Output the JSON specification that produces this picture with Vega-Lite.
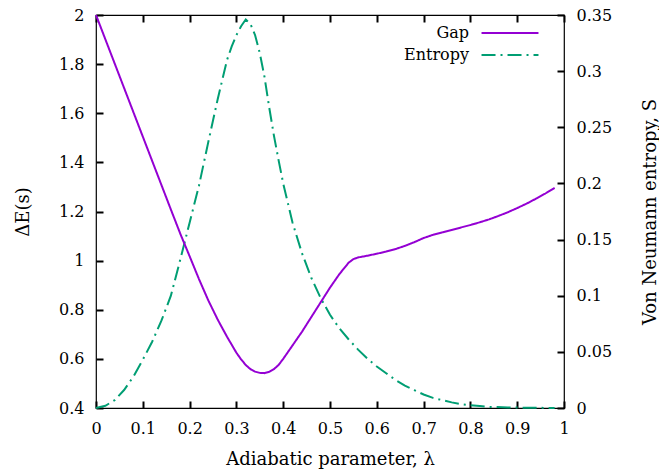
{
  "$schema": "https://vega.github.io/schema/vega-lite/v6.json",
  "width": 468,
  "height": 393,
  "autosize": {"type": "none"},
  "padding": {"left": 96, "top": 15, "right": 95, "bottom": 66},
  "background": "white",
  "config": {
    "view": {"stroke": "black", "strokeWidth": 1.2},
    "font": "DejaVu Serif",
    "axis": {
      "domain": false, "zindex": 1, "tickColor": "#000000", "tickWidth": 2, "labelColor": "black", "titleColor": "black",
      "labelFont": "DejaVu Serif", "titleFont": "DejaVu Serif", "labelFlush": false,
      "labelFontSize": 16, "titleFontSize": 18, "titleFontWeight": "normal",
      "grid": false, "tickSize": 7, "offset": -7, "labelPadding": 12, "format": "~g"
    },
    "legend": {
      "orient": "none", "legendX": 405, "legendY": 9, "padding": 0,
      "labelFont": "DejaVu Serif", "labelFontSize": 16, "labelColor": "black",
      "labelAlign": "right", "labelOffset": -50,
      "symbolType": "M-3.56,0H3.56", "symbolSize": 256, "symbolStrokeWidth": 2,
      "rowPadding": 5
    }
  },
  "datasets": {
    "gap": [
      {"lambda": 0.0, "gap": 2.0, "series": "Gap"},
      {"lambda": 0.02, "gap": 1.901, "series": "Gap"},
      {"lambda": 0.04, "gap": 1.802, "series": "Gap"},
      {"lambda": 0.06, "gap": 1.703, "series": "Gap"},
      {"lambda": 0.08, "gap": 1.604, "series": "Gap"},
      {"lambda": 0.10, "gap": 1.505, "series": "Gap"},
      {"lambda": 0.12, "gap": 1.406, "series": "Gap"},
      {"lambda": 0.14, "gap": 1.307, "series": "Gap"},
      {"lambda": 0.16, "gap": 1.208, "series": "Gap"},
      {"lambda": 0.18, "gap": 1.11, "series": "Gap"},
      {"lambda": 0.20, "gap": 1.018, "series": "Gap"},
      {"lambda": 0.22, "gap": 0.925, "series": "Gap"},
      {"lambda": 0.24, "gap": 0.838, "series": "Gap"},
      {"lambda": 0.26, "gap": 0.76, "series": "Gap"},
      {"lambda": 0.28, "gap": 0.69, "series": "Gap"},
      {"lambda": 0.30, "gap": 0.625, "series": "Gap"},
      {"lambda": 0.31, "gap": 0.598, "series": "Gap"},
      {"lambda": 0.32, "gap": 0.575, "series": "Gap"},
      {"lambda": 0.33, "gap": 0.558, "series": "Gap"},
      {"lambda": 0.34, "gap": 0.548, "series": "Gap"},
      {"lambda": 0.35, "gap": 0.543, "series": "Gap"},
      {"lambda": 0.36, "gap": 0.542, "series": "Gap"},
      {"lambda": 0.37, "gap": 0.547, "series": "Gap"},
      {"lambda": 0.38, "gap": 0.558, "series": "Gap"},
      {"lambda": 0.39, "gap": 0.575, "series": "Gap"},
      {"lambda": 0.40, "gap": 0.6, "series": "Gap"},
      {"lambda": 0.42, "gap": 0.655, "series": "Gap"},
      {"lambda": 0.44, "gap": 0.71, "series": "Gap"},
      {"lambda": 0.46, "gap": 0.77, "series": "Gap"},
      {"lambda": 0.48, "gap": 0.83, "series": "Gap"},
      {"lambda": 0.50, "gap": 0.89, "series": "Gap"},
      {"lambda": 0.52, "gap": 0.945, "series": "Gap"},
      {"lambda": 0.54, "gap": 0.992, "series": "Gap"},
      {"lambda": 0.55, "gap": 1.006, "series": "Gap"},
      {"lambda": 0.56, "gap": 1.013, "series": "Gap"},
      {"lambda": 0.58, "gap": 1.02, "series": "Gap"},
      {"lambda": 0.60, "gap": 1.028, "series": "Gap"},
      {"lambda": 0.62, "gap": 1.037, "series": "Gap"},
      {"lambda": 0.64, "gap": 1.047, "series": "Gap"},
      {"lambda": 0.66, "gap": 1.06, "series": "Gap"},
      {"lambda": 0.68, "gap": 1.075, "series": "Gap"},
      {"lambda": 0.70, "gap": 1.092, "series": "Gap"},
      {"lambda": 0.72, "gap": 1.105, "series": "Gap"},
      {"lambda": 0.74, "gap": 1.115, "series": "Gap"},
      {"lambda": 0.76, "gap": 1.125, "series": "Gap"},
      {"lambda": 0.78, "gap": 1.135, "series": "Gap"},
      {"lambda": 0.80, "gap": 1.145, "series": "Gap"},
      {"lambda": 0.82, "gap": 1.156, "series": "Gap"},
      {"lambda": 0.84, "gap": 1.168, "series": "Gap"},
      {"lambda": 0.86, "gap": 1.182, "series": "Gap"},
      {"lambda": 0.88, "gap": 1.197, "series": "Gap"},
      {"lambda": 0.90, "gap": 1.214, "series": "Gap"},
      {"lambda": 0.92, "gap": 1.232, "series": "Gap"},
      {"lambda": 0.94, "gap": 1.252, "series": "Gap"},
      {"lambda": 0.96, "gap": 1.273, "series": "Gap"},
      {"lambda": 0.98, "gap": 1.296, "series": "Gap"}
    ],
    "entropy": [
      {"lambda": 0.0, "entropy": 0.0, "series": "Entropy"},
      {"lambda": 0.02, "entropy": 0.002, "series": "Entropy"},
      {"lambda": 0.04, "entropy": 0.007, "series": "Entropy"},
      {"lambda": 0.06, "entropy": 0.016, "series": "Entropy"},
      {"lambda": 0.08, "entropy": 0.028, "series": "Entropy"},
      {"lambda": 0.10, "entropy": 0.043, "series": "Entropy"},
      {"lambda": 0.12, "entropy": 0.059, "series": "Entropy"},
      {"lambda": 0.14, "entropy": 0.078, "series": "Entropy"},
      {"lambda": 0.16, "entropy": 0.1, "series": "Entropy"},
      {"lambda": 0.18, "entropy": 0.132, "series": "Entropy"},
      {"lambda": 0.20, "entropy": 0.165, "series": "Entropy"},
      {"lambda": 0.22, "entropy": 0.198, "series": "Entropy"},
      {"lambda": 0.24, "entropy": 0.237, "series": "Entropy"},
      {"lambda": 0.26, "entropy": 0.275, "series": "Entropy"},
      {"lambda": 0.28, "entropy": 0.31, "series": "Entropy"},
      {"lambda": 0.29, "entropy": 0.322, "series": "Entropy"},
      {"lambda": 0.30, "entropy": 0.332, "series": "Entropy"},
      {"lambda": 0.31, "entropy": 0.34, "series": "Entropy"},
      {"lambda": 0.32, "entropy": 0.346, "series": "Entropy"},
      {"lambda": 0.33, "entropy": 0.342, "series": "Entropy"},
      {"lambda": 0.34, "entropy": 0.332, "series": "Entropy"},
      {"lambda": 0.35, "entropy": 0.316, "series": "Entropy"},
      {"lambda": 0.36, "entropy": 0.295, "series": "Entropy"},
      {"lambda": 0.37, "entropy": 0.268, "series": "Entropy"},
      {"lambda": 0.38, "entropy": 0.243, "series": "Entropy"},
      {"lambda": 0.39, "entropy": 0.221, "series": "Entropy"},
      {"lambda": 0.40, "entropy": 0.2, "series": "Entropy"},
      {"lambda": 0.42, "entropy": 0.165, "series": "Entropy"},
      {"lambda": 0.44, "entropy": 0.138, "series": "Entropy"},
      {"lambda": 0.46, "entropy": 0.116, "series": "Entropy"},
      {"lambda": 0.48, "entropy": 0.098, "series": "Entropy"},
      {"lambda": 0.50, "entropy": 0.083, "series": "Entropy"},
      {"lambda": 0.52, "entropy": 0.071, "series": "Entropy"},
      {"lambda": 0.54, "entropy": 0.061, "series": "Entropy"},
      {"lambda": 0.56, "entropy": 0.052, "series": "Entropy"},
      {"lambda": 0.58, "entropy": 0.044, "series": "Entropy"},
      {"lambda": 0.60, "entropy": 0.037, "series": "Entropy"},
      {"lambda": 0.62, "entropy": 0.031, "series": "Entropy"},
      {"lambda": 0.64, "entropy": 0.025, "series": "Entropy"},
      {"lambda": 0.66, "entropy": 0.02, "series": "Entropy"},
      {"lambda": 0.68, "entropy": 0.016, "series": "Entropy"},
      {"lambda": 0.70, "entropy": 0.012, "series": "Entropy"},
      {"lambda": 0.72, "entropy": 0.009, "series": "Entropy"},
      {"lambda": 0.74, "entropy": 0.007, "series": "Entropy"},
      {"lambda": 0.76, "entropy": 0.005, "series": "Entropy"},
      {"lambda": 0.78, "entropy": 0.0035, "series": "Entropy"},
      {"lambda": 0.80, "entropy": 0.0025, "series": "Entropy"},
      {"lambda": 0.82, "entropy": 0.0017, "series": "Entropy"},
      {"lambda": 0.84, "entropy": 0.001, "series": "Entropy"},
      {"lambda": 0.88, "entropy": 0.0005, "series": "Entropy"},
      {"lambda": 0.92, "entropy": 0.0002, "series": "Entropy"},
      {"lambda": 0.96, "entropy": 0.0001, "series": "Entropy"},
      {"lambda": 0.98, "entropy": 0.0, "series": "Entropy"}
    ]
  },
  "layer": [
    {
      "data": {"name": "entropy"},
      "mark": {"type": "line", "strokeWidth": 2},
      "encoding": {
        "x": {"field": "lambda", "type": "quantitative", "scale": {"domain": [0, 1]},
              "axis": {"title": "Adiabatic parameter, λ", "titlePadding": 14, "values": [0, 0.1, 0.2, 0.3, 0.4, 0.5, 0.6, 0.7, 0.8, 0.9, 1], "orient": "bottom"}},
        "y": {"field": "entropy", "type": "quantitative", "scale": {"domain": [0, 0.35]},
              "axis": {"title": "Von Neumann entropy, S", "titleAngle": 270, "titlePadding": 48, "orient": "right", "values": [0, 0.05, 0.1, 0.15, 0.2, 0.25, 0.3, 0.35]}},
        "color": {"field": "series", "type": "nominal", "scale": {"domain": ["Gap", "Entropy"], "range": ["#9400D3", "#009E73"]}, "legend": {"title": null}},
        "strokeDash": {"field": "series", "type": "nominal", "scale": {"domain": ["Gap", "Entropy"], "range": [[1, 0], [14, 5, 2, 5]]}, "legend": {"title": null}}
      }
    },
    {
      "data": {"name": "gap"},
      "mark": {"type": "line", "strokeWidth": 2},
      "encoding": {
        "x": {"field": "lambda", "type": "quantitative", "scale": {"domain": [0, 1]},
              "axis": {"title": null, "labels": false, "orient": "top", "values": [0, 0.1, 0.2, 0.3, 0.4, 0.5, 0.6, 0.7, 0.8, 0.9, 1]}},
        "y": {"field": "gap", "type": "quantitative", "scale": {"domain": [0.4, 2]},
              "axis": {"title": "ΔE(s)", "titlePadding": 26, "orient": "left", "values": [0.4, 0.6, 0.8, 1, 1.2, 1.4, 1.6, 1.8, 2]}},
        "color": {"field": "series", "type": "nominal"},
        "strokeDash": {"field": "series", "type": "nominal"}
      }
    }
  ],
  "resolve": {"scale": {"y": "independent"}, "axis": {"x": "independent"}}
}
